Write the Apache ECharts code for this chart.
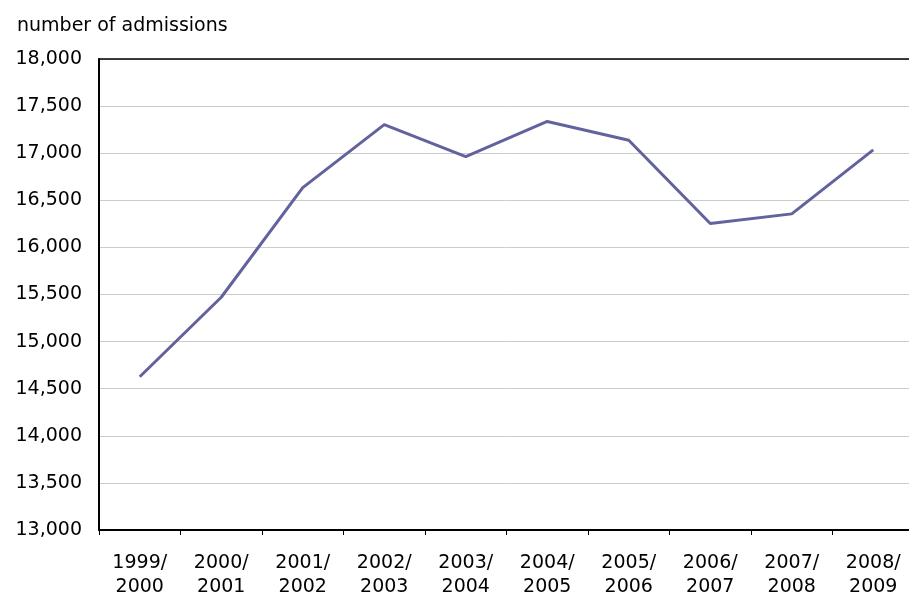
<!DOCTYPE html>
<html>
<head>
<meta charset="utf-8">
<script src="https://cdn.jsdelivr.net/npm/echarts@6/dist/echarts.min.js"></script>
<style>
html,body{margin:0;padding:0;background:#fff;}
#chart{width:909px;height:597px;}
</style>
</head>
<body>
<div id="chart"></div>
<script>
var categories = ['1999/\n2000','2000/\n2001','2001/\n2002','2002/\n2003','2003/\n2004','2004/\n2005','2005/\n2006','2006/\n2007','2007/\n2008','2008/\n2009'];
var admissions = [14627, 15471, 16634, 17303, 16964, 17337, 17137, 16254, 16356, 17036];
var yAxisTitle = 'number of admissions';

var chart = echarts.init(document.getElementById('chart'));
var font = 'DejaVu Sans, Verdana, sans-serif';
chart.setOption({
  animation: false,
  backgroundColor: '#ffffff',
  title: {
    text: yAxisTitle,
    left: 12, top: 12,
    textStyle: {fontFamily: font, fontSize: 19, fontWeight: 'normal', color: '#000'}
  },
  grid: {left: 99, top: 59, width: 815, height: 471, containLabel: false, outerBoundsMode: 'none'},
  xAxis: [{
    type: 'category',
    data: categories,
    boundaryGap: true,
    axisLine: {show: true, lineStyle: {color: '#000', width: 2}},
    axisTick: {show: true, length: 5, lineStyle: {color: '#000', width: 1}, alignWithLabel: false},
    axisLabel: {fontFamily: font, fontSize: 19, color: '#000', margin: 21, lineHeight: 24, interval: 0}
  }, {
    type: 'category',
    position: 'top',
    data: categories,
    axisLine: {show: true, lineStyle: {color: '#000', width: 1.5}},
    axisTick: {show: false},
    axisLabel: {show: false}
  }],
  yAxis: {
    type: 'value',
    min: 13000, max: 18000, interval: 500,
    axisLine: {show: true, lineStyle: {color: '#000', width: 2}},
    axisTick: {show: false},
    splitLine: {show: true, lineStyle: {color: '#cccccc', width: 1}},
    axisLabel: {
      fontFamily: font, fontSize: 19, color: '#000', margin: 17,
      formatter: function (v) { return v.toLocaleString('en-US'); }
    }
  },
  series: [{
    type: 'line',
    data: admissions,
    xAxisIndex: 0,
    symbol: 'none',
    lineStyle: {color: '#62629c', width: 3},
    itemStyle: {color: '#62629c'}
  }]
});
</script>
</body>
</html>
